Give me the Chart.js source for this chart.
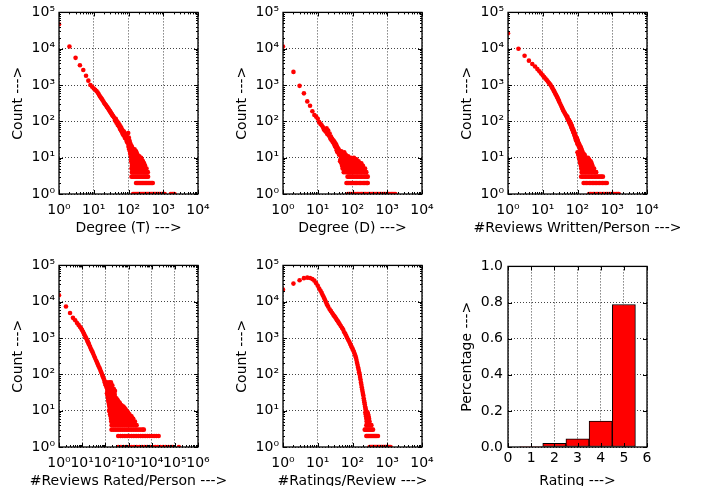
<!DOCTYPE html>
<html>
<head>
<meta charset="utf-8">
<script src="https://cdn.jsdelivr.net/npm/chart.js@4.4.1/dist/chart.umd.min.js"></script>
<style>
  html, body { margin: 0; padding: 0; background: #fff; overflow: hidden; }
  body { width: 709px; height: 486px; position: relative; }
  canvas { position: absolute; }
</style>
</head>
<body>
<canvas id="p1"></canvas>
<canvas id="p2"></canvas>
<canvas id="p3"></canvas>
<canvas id="p4"></canvas>
<canvas id="p5"></canvas>
<canvas id="p6"></canvas>
<script>
// ---- data: [x, count] pairs, tails as [count, [x ...]] ----

var degT = [[1,47000],[2,11500],[3,5600],[4,3500],[5,2600],[6,1800],[7,1320],[8,1000],[9,900],[10,800],
  [11,740],[12,680],[13,620],[14,560],[15,490],[16,450],[17,420],[18,380],[19,350],[20,320],
  [21,300],[22,285],[23,270],[24,250],[25,240],[26,225],[27,215],[28,200],[29,195],[30,180],
  [31,175],[32,165],[33,160],[34,150],[35,145],[36,140],[38,130],[40,120],[42,110],[44,104],
  [46,96],[48,90],[50,86],[52,80],[54,74],[56,70],[58,66],[60,63],[62,58],[64,55],[66,52],
  [68,56],[70,48],[72,45],[74,52],[76,42],[78,39],[80,46],[82,36],[84,41],[86,33],[88,38],
  [90,30],[92,35],[94,28],[96,32],[98,48],[100,26],[102,36],[104,22],[106,30],[108,20],
  [110,26],[113,18],[116,23],[119,16],[122,21],[125,14],[128,19],[131,12],[135,17],[139,11],
  [143,15],[147,10],[151,13],[156,11],[161,12],[166,10],[172,11],[178,10],[185,9],[192,10],
  [200,8],[210,10],[225,9],[240,7],[255,8],[270,6],
  [41,105],[43,118],[45,92],[47,100],[49,80],[51,92],[53,72],[55,80],[57,62],[59,72],
  [61,55],[63,64],[65,58],[67,46],[69,52],[71,42],[73,49],[75,40],[77,45],[79,35],
  [81,42],[83,38],[87,36],[89,28],[91,32],[93,26],[97,30],[99,24]];
var degTTail = [
  [20, [100,112,122]],
  [17, [105,118,130,150]],
  [15, [110,122,135,148,165]],
  [13, [112,125,140,155,175]],
  [12, [115,128,143,160,180]],
  [11, [118,132,147,165,185,205]],
  [10, [120,135,150,168,188,210,230]],
  [9, [122,137,153,172,193,215,240]],
  [8, [120,135,151,170,190,213,238,260]],
  [7, [125,140,157,176,197,220,246,280]],
  [6, [125,140,157,176,197,220,246,270,300]],
  [5, [122,137,153,172,193,216,242,270,300,330]],
  [4, [125,140,157,176,197,220,246,275,300,330,360]],
  [3, [122,132,143,155,168,182,197,213,230,250,270,292,316,340,366]],
  [2, [165,178,192,207,223,240,258,278,300,323,348,375,404,435,468,500]],
  [1, [135,145,157,170,183,197,212,228,246,265,286,308,332,358,386,416,450,485,523,563,607,655,706,760,820,885,955,1030,1100,1650,1800,1950,2100]]
];

var degD = [[1,11500],[2,2300],[3,950],[4,590],[5,355],[6,270],[7,190],[8,150],[9,135],[10,118],
  [11,95],[12,85],[13,78],[14,70],[15,60],[16,56],[17,52],[18,64],[19,44],[20,56],
  [21,40],[22,46],[23,34],[24,38],[25,30],[26,33],[27,27],[28,30],[29,24],[30,28],
  [31,21],[32,25],[33,19],[34,23],[35,16],[36,20],[37,14],[38,18],[39,15],[40,17],
  [41,12],[42,14],[44,13],[46,11],[48,15],[50,10],[52,13],[54,12],[56,10],[58,14],
  [60,11],[62,10],[64,12],[66,9],[70,10],[75,11],[80,10],[85,9],[90,10],[100,8],[110,10],[115,9]];
var degDTail = [
  [9, [45,52,60,70,85,100,120,130]],
  [8, [44,50,58,68,78,95,110,130,150]],
  [7, [48,55,63,72,85,100,115,135,160,180]],
  [6, [50,57,65,75,88,105,120,140,165,200]],
  [5, [52,60,68,78,90,105,120,140,165,195,230]],
  [4, [56,64,72,82,94,108,124,140,160,185,215,250]],
  [3, [72,78,84,90,98,107,117,128,140,153,167,182,200,218,238,260,275]],
  [2, [67,73,79,86,93,100,110,120,131,143,157,171,187,205,224,245,262,275]],
  [1, [74,81,89,97,106,116,127,139,152,166,182,199,218,238,260,285,312,341,373,408,446,488,534,584,639,699,764,836,914,1000,1094,1196,1308,1431,1565,1700]]
];

var revW = [[1,26500],[2,10000],[3,6400],[4,4700],[5,3800],[6,3250],[7,2750],[8,2380],[9,2090],[10,1850],
  [11,1650],[12,1500],[13,1370],[14,1250],[15,1150],[16,1060],[17,980],[18,900],[19,820],[20,750],
  [21,690],[22,630],[23,580],[24,540],[25,500],[26,465],[27,430],[28,400],[29,370],[30,340],
  [32,300],[34,265],[36,235],[38,210],[40,190],[42,175],[44,162],[46,150],[48,140],[50,128],
  [52,120],[54,112],[56,104],[58,98],[60,92],[62,86],[64,80],[66,75],[68,70],[70,65],[72,61],
  [74,57],[76,53],[78,50],[80,47],[82,44],[84,41],[86,39],[88,36],[90,34],[92,32],[94,35],
  [96,29],[98,31],[100,26],[102,29],[104,23],[106,26],[108,21],[110,24],[113,19],[116,22],
  [119,17],[122,20],[125,15],[128,18],[131,13],[134,16],[137,12],[140,14],[144,11],[148,13],
  [152,10],[156,12],[160,11],[165,10],
  [51,135],[53,110],[57,108],[59,90],[61,97],[63,80],[65,85],[67,68],[69,75],[71,60],
  [73,64],[75,52],[77,58],[79,46],[81,50],[83,40],[85,44],[87,35],[89,38],[91,30],
  [93,35],[95,28],[97,33],[99,24],[101,28]];
var revWTail = [
  [14, [100,115,132]],
  [12, [105,120,138,160]],
  [10, [110,125,140,160,180,200]],
  [9, [115,130,148,168,190,215]],
  [8, [118,134,152,172,195,220,240]],
  [7, [120,137,156,178,202,230,255]],
  [6, [125,142,162,185,210,240,270]],
  [5, [128,146,166,190,216,246,280,300]],
  [4, [132,150,171,195,222,253,288,320,345]],
  [3, [127,140,154,170,187,206,227,250,275,303,334,368,405,446,491,540]],
  [2, [150,165,182,200,220,242,267,294,323,356,392,431,475,523,576,634,700]],
  [1, [215,237,260,286,315,347,381,420,462,508,559,615,676,744,818,900,990,1089,1198,1318,1450,1540]]
];

var revR = [[1,15000],[2,7400],[3,4900],[4,3600],[5,3100],[6,2600],[7,2300],[8,2050],[9,1850],[10,1650],
  [11,1460],[12,1300],[13,1180],[14,1070],[15,980],[16,900],[17,830],[18,760],[19,700],[20,650],
  [22,570],[24,500],[26,450],[28,410],[30,370],[33,320],[36,280],[40,240],[44,210],[48,185],
  [52,165],[56,150],[60,135],[65,118],[70,105],[75,92],[80,84],[85,76],[90,70],[95,62],
  [100,56],[106,50],[112,45],[118,42],[125,37],[132,33],[140,30],[150,26],[160,23],[170,21],
  [185,19],[200,16],[220,14]];
var revRTail = [
  [60, [95,115,145,175]],
  [50, [105,130,165,200]],
  [40, [120,150,190,230]],
  [35, [125,160,210,260]],
  [30, [118,140,165,195,240]],
  [28, [122,145,172,205,250]],
  [25, [128,152,180,215,255]],
  [22, [132,157,187,222,265,300]],
  [20, [136,162,193,230,275,330]],
  [19, [138,165,197,235,280,340]],
  [18, [140,168,200,240,287,345]],
  [17, [143,171,205,245,293,350,400]],
  [16, [145,174,208,250,300,360,420]],
  [15, [147,177,212,255,306,367,440]],
  [14, [150,180,216,260,312,375,450,500]],
  [13, [152,183,220,264,317,380,456,547,600]],
  [12, [155,186,223,268,322,386,463,556,667]],
  [11, [158,190,228,273,328,394,472,567,680,750]],
  [10, [145,174,209,251,301,361,433,520,624,749,830]],
  [9, [160,192,230,276,332,398,478,573,688,826,950]],
  [8, [160,192,230,276,332,398,478,573,688,826,991,1100]],
  [7, [170,204,245,294,353,423,508,610,732,878,1054,1264,1350]],
  [6, [175,210,252,302,363,435,522,627,752,903,1083,1300,1560,1600]],
  [5, [180,216,259,311,373,448,538,645,774,929,1115,1338,1605,1900]],
  [4, [187,224,269,323,388,465,558,670,804,965,1158,1390,1668,2000,2240]],
  [3, [185,222,266,320,384,460,552,662,795,954,1145,1374,1650,1980,2375,2850,3420,4100,4600]],
  [2, [358,448,560,700,875,1094,1367,1709,2136,2670,3338,4172,5215,6519,8149,10186,12733,15916,20000]],
  [1, [360,470,610,790,1030,1340,1740,2260,2940,3820,4970,6460,8400,10900,14200,18500,24000,31200,40600,52800,68600,83000,150000]]
];

var ratR = [[1,21500],[2,31500],[3,39000],[4,44500],[5,46000],[6,45000],[7,42000],[8,38000],[9,32500],[10,27500],
  [11,23000],[12,20000],[13,17500],[14,15000],[15,13000],[16,11500],[17,10000],[18,8800],[19,8000],[20,7300],
  [22,6200],[24,5500],[26,4900],[28,4400],[30,4000],[32,3700],[34,3400],[36,3100],[38,2900],[40,2650],
  [43,2400],[46,2150],[50,1900],[54,1700],[58,1450],[62,1300],[66,1150],[70,1020],[75,900],[80,800],
  [85,710],[90,630],[95,560],[100,510],[105,460],[110,410],[115,370],[120,330],[125,290],[130,250],
  [135,210],[140,180],[145,155],[150,135],[155,115],[160,100],[165,85],[170,72],[175,60],[180,52],
  [185,44],[190,38],[195,33],[200,29],[205,26],[210,22],[215,19],[220,17],[225,15],[230,13],
  [235,12],[240,11],[245,10],[250,9]];
var ratRTail = [
  [9, [235,255,270]],
  [8, [240,260,280]],
  [7, [245,265,290]],
  [6, [250,270,300]],
  [5, [255,280,310]],
  [4, [250,270,295,320,350]],
  [3, [225,240,257,275,295,315,338,362,390]],
  [2, [250,267,286,306,328,351,376,402,431,461,494,540]],
  [1, [310,332,356,381,408,437,468,501,537,575,616,660,707,757,811,868,930,996,1067,1143,1250]]
];

// rating histogram
var ratings = [1, 2, 3, 4, 5];
var ratingShare = [0.003, 0.021, 0.045, 0.143, 0.789];

var SUP = ['\u2070', '\u00B9', '\u00B2', '\u00B3', '\u2074', '\u2075', '\u2076'];

Chart.defaults.font.family = '"DejaVu Sans", sans-serif';
Chart.defaults.font.size = 14;
Chart.defaults.color = '#000';

// join the main curve with the low-count rows
function toPoints(main, tail) {
  var pts = main.map(p => ({ x: p[0], y: p[1] }));
  tail.forEach(row => row[1].forEach(x => pts.push({ x: x, y: row[0] })));
  return pts;
}

function decades(maxExp) {
  var out = [];
  for (var e = 0; e <= maxExp; e++) out.push(Math.pow(10, e));
  return out;
}

// tick marks (pointing in, on all four sides), the box and the axis titles
function tickMarks(scale) {
  var marks = scale.ticks.map(t => [t.value, 4]);
  if (scale.type === 'logarithmic') {
    var top = Math.round(Math.log10(scale.max));
    for (var e = 0; e < top; e++) {
      for (var m = 2; m < 10; m++) marks.push([m * Math.pow(10, e), 2]);
    }
  }
  return marks;
}

var framePlugin = {
  id: 'frame',
  afterDatasetsDraw(chart) {
    var ctx = chart.ctx, a = chart.chartArea;
    var xs = chart.scales.x, ys = chart.scales.y;
    ctx.save();
    ctx.strokeStyle = '#000';
    ctx.lineWidth = 1;
    ctx.beginPath();
    tickMarks(xs).forEach(([v, len]) => {
      var p = Math.round(xs.getPixelForValue(v)) + 0.5;
      ctx.moveTo(p, a.bottom); ctx.lineTo(p, a.bottom - len);
      ctx.moveTo(p, a.top); ctx.lineTo(p, a.top + len);
    });
    tickMarks(ys).forEach(([v, len]) => {
      var p = Math.round(ys.getPixelForValue(v)) + 0.5;
      ctx.moveTo(a.left, p); ctx.lineTo(a.left + len, p);
      ctx.moveTo(a.right, p); ctx.lineTo(a.right - len, p);
    });
    ctx.stroke();
    ctx.lineWidth = 1.3;
    ctx.strokeRect(a.left, a.top, a.right - a.left, a.bottom - a.top);

    ctx.fillStyle = '#000';
    ctx.font = '14px "DejaVu Sans"';
    ctx.textAlign = 'center';
    ctx.textBaseline = 'middle';
    ctx.fillText(xs.options.title.text, (a.left + a.right) / 2, a.bottom + 34.5);
    ctx.translate(a.left - 41, (a.top + a.bottom) / 2);
    ctx.rotate(-Math.PI / 2);
    ctx.fillText(ys.options.title.text, 0, 0);
    ctx.restore();
  }
};

function logAxis(maxExp, title, isX) {
  return {
    type: 'logarithmic',
    min: 1,
    max: Math.pow(10, maxExp),
    afterBuildTicks: s => { s.ticks = decades(maxExp).map(v => ({ value: v })); },
    afterFit: s => { if (isX) s.height = 43; else s.width = 60; },
    grid: { color: '#444', lineWidth: 1, drawTicks: false },
    border: { display: false, dash: [1, 2] },
    ticks: {
      autoSkip: false, maxRotation: 0, minRotation: 0,
      padding: isX ? 8 : 4,
      callback: v => '10' + SUP[Math.round(Math.log10(v))]
    },
    title: { display: false, text: title }
  };
}

function makeCanvas(id, rect) {
  var c = document.getElementById(id);
  c.width = 60 + rect.w + 36;
  c.height = 12 + rect.h + 43;
  c.style.left = (rect.l - 60) + 'px';
  c.style.top = (rect.t - 12) + 'px';
  return c;
}

var baseOptions = {
  responsive: false,
  animation: false,
  devicePixelRatio: 1,
  events: [],
  layout: { padding: { left: 0, top: 12, right: 36, bottom: 0 } },
  plugins: { legend: { display: false }, tooltip: { enabled: false } }
};

function scatterPanel(id, rect, pts, xMax, xTitle) {
  new Chart(makeCanvas(id, rect), {
    type: 'scatter',
    data: {
      datasets: [{
        data: pts,
        backgroundColor: '#ff0000',
        pointRadius: 2.3,
        pointBorderWidth: 0,
        pointHoverRadius: 0,
        clip: 0
      }]
    },
    options: Object.assign({}, baseOptions, {
      scales: {
        x: logAxis(xMax, xTitle, true),
        y: logAxis(5, 'Count --->', false)
      }
    }),
    plugins: [framePlugin]
  });
}

scatterPanel('p1', { l: 59, t: 12, w: 139, h: 182 }, toPoints(degT, degTTail), 4, 'Degree (T) --->');
scatterPanel('p2', { l: 283, t: 12, w: 139, h: 182 }, toPoints(degD, degDTail), 4, 'Degree (D) --->');
scatterPanel('p3', { l: 508, t: 12, w: 139, h: 182 }, toPoints(revW, revWTail), 4, '#Reviews Written/Person --->');
scatterPanel('p4', { l: 59, t: 265, w: 139, h: 182 }, toPoints(revR, revRTail), 6, '#Reviews Rated/Person --->');
scatterPanel('p5', { l: 283, t: 265, w: 139, h: 182 }, toPoints(ratR, ratRTail), 4, '#Ratings/Review --->');

// rating histogram
new Chart(makeCanvas('p6', { l: 508, t: 265, w: 139, h: 182 }), {
  type: 'bar',
  data: {
    datasets: [{
      data: ratings.map((r, i) => ({ x: r, y: ratingShare[i] })),
      backgroundColor: '#ff0000',
      borderColor: '#000',
      borderWidth: 1,
      borderSkipped: false,
      barPercentage: 1,
      categoryPercentage: 1
    }]
  },
  options: Object.assign({}, baseOptions, {
    scales: {
      x: {
        type: 'linear', min: 0, max: 6, offset: false,
        afterFit: s => { s.height = 43; },
        grid: { color: '#444', lineWidth: 1, drawTicks: false, offset: false },
        border: { display: false, dash: [1, 2] },
        ticks: { stepSize: 1, padding: 3, maxRotation: 0, autoSkip: false },
        title: { display: false, text: 'Rating --->' }
      },
      y: {
        type: 'linear', min: 0, max: 1,
        afterFit: s => { s.width = 60; },
        grid: { color: '#444', lineWidth: 1, drawTicks: false },
        border: { display: false, dash: [1, 2] },
        ticks: { stepSize: 0.2, padding: 5, callback: v => v.toFixed(1) },
        title: { display: false, text: 'Percentage --->' }
      }
    }
  }),
  plugins: [framePlugin]
});
</script>
</body>
</html>
